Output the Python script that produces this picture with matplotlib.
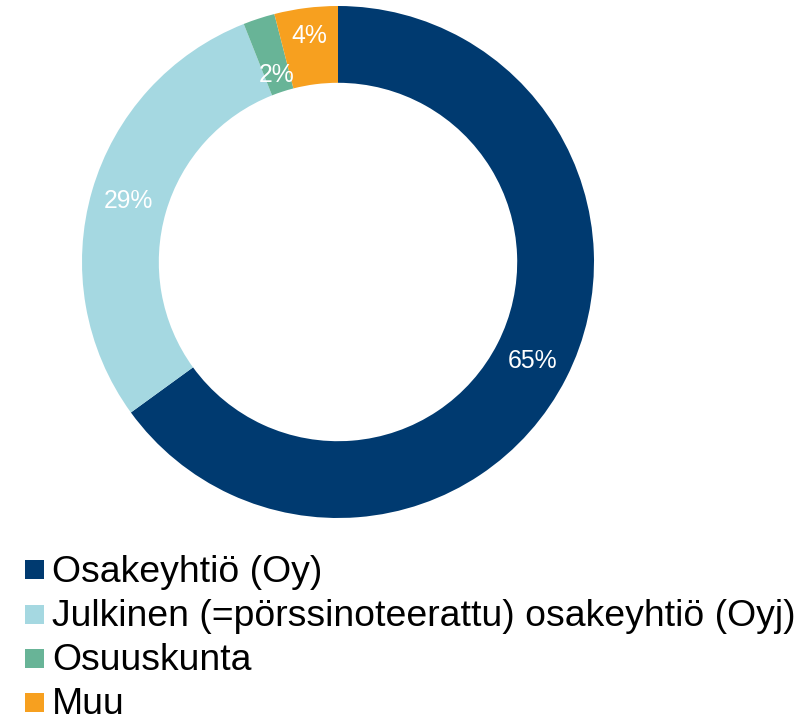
import matplotlib
matplotlib.use("Agg")
import matplotlib.pyplot as plt
import numpy as np
from matplotlib.patches import Rectangle

categories = ["Osakeyhtiö (Oy)", "Julkinen (=pörssinoteerattu) osakeyhtiö (Oyj)", "Osuuskunta", "Muu"]
values = [65, 29, 2, 4]
colors = ["#003A70", "#A5D8E1", "#68B497", "#F7A01F"]
label_radius = [0.852, 0.852, 0.77, 0.89]

plt.rcParams['font.family'] = ['Liberation Sans', 'DejaVu Sans']

W, H = 811, 718
fig = plt.figure(figsize=(W / 100, H / 100), dpi=100)

cx, cy, R = 338, 262, 256
ax = fig.add_axes([(cx - R) / W, (H - cy - R) / H, 2 * R / W, 2 * R / H])
wedges, texts, autotexts = ax.pie(
    values, colors=colors, startangle=90, counterclock=False, radius=1,
    wedgeprops=dict(width=0.3, linewidth=0),
    autopct=lambda p: f"{p:.0f}%", pctdistance=0.85,
    textprops=dict(color="white", fontsize=17.8))
for w, t, r in zip(wedges, autotexts, label_radius):
    ang = np.deg2rad((w.theta1 + w.theta2) / 2)
    t.set_position((r * np.cos(ang), r * np.sin(ang)))
    t.set_ha("center"); t.set_va("center")
ax.set_xlim(-1, 1); ax.set_ylim(-1, 1)
ax.set_aspect("equal")
ax.axis("off")

# legend
row_centers = [569.5, 614, 658.5, 702.5]
for cat, col, yc in zip(categories, colors, row_centers):
    fig.patches.append(Rectangle((25 / W, 1 - (yc + 9.5) / H), 19 / W, 19 / H,
                                 transform=fig.transFigure, facecolor=col, edgecolor="none"))
    fig.text(52 / W, 1 - (yc + 12) / H, cat, fontsize=26.9, color="black",
             ha="left", va="baseline")

fig.savefig("out.png", dpi=100, facecolor="white")
